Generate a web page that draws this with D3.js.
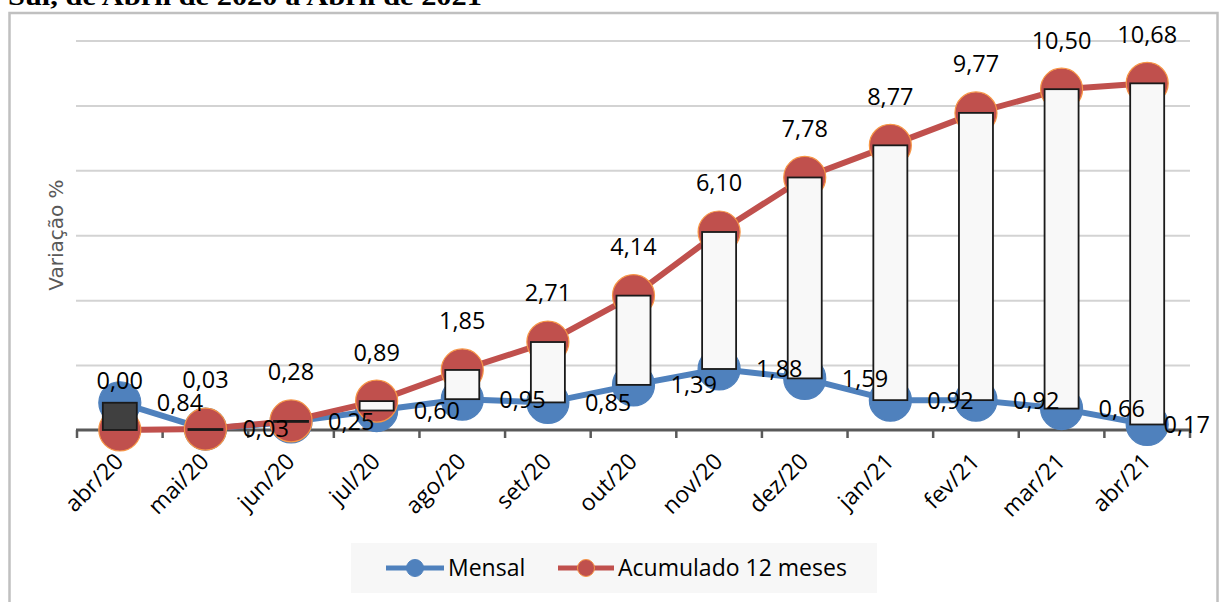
<!DOCTYPE html>
<html>
<head>
<meta charset="utf-8">
<script src="https://cdn.jsdelivr.net/npm/d3@7"></script>
<style>
  html, body { margin: 0; padding: 0; background: #fff; }
  svg { display: block; }
</style>
</head>
<body>
<svg id="chart" width="1221" height="602"></svg>
<script>
"use strict";

// ── Data ──────────────────────────────────────────────
const meses = ["abr/20", "mai/20", "jun/20", "jul/20", "ago/20", "set/20", "out/20",
               "nov/20", "dez/20", "jan/21", "fev/21", "mar/21", "abr/21"];
const mensal    = [0.84, 0.03, 0.25, 0.60, 0.95, 0.85, 1.39, 1.88, 1.59, 0.92, 0.92, 0.66, 0.17];
const acumulado = [0.00, 0.03, 0.28, 0.89, 1.85, 2.71, 4.14, 6.10, 7.78, 8.77, 9.77, 10.50, 10.68];
const gridTicks = [2, 4, 6, 8, 10, 12];
const seriesNames = ["Mensal", "Acumulado 12 meses"];

const BLUE = "#4f81bd", RED = "#c0504d";
const fmt = v => v.toFixed(2).replace(".", ",");
const labelFont = "'Open Sans', sans-serif";

const svg = d3.select("#chart");

// title (cut off at the top, as in the source)
svg.append("text")
  .attr("x", 8).attr("y", 4.5)
  .attr("font-family", "'Liberation Serif', serif")
  .attr("font-weight", "bold").attr("font-size", 26)
  .attr("textLength", 474).attr("lengthAdjust", "spacingAndGlyphs")
  .attr("fill", "#000")
  .text("Sul, de Abril de 2020 a Abril de 2021");

// chart frame
svg.append("rect")
  .attr("x", 9.5).attr("y", 13).attr("width", 1208).attr("height", 620)
  .attr("fill", "#fff").attr("stroke", "#c0c0c0").attr("stroke-width", 2.5);

// ── Scales ────────────────────────────────────────────
const x = d3.scaleBand().domain(meses).range([77, 1190]).padding(0);
const cx = d => x(d) + x.bandwidth() / 2;
const y = d3.scaleLinear().domain([0, 12]).range([430, 40.5]);

const g = svg.append("g");

// gridlines
g.append("g")
  .attr("transform", "translate(76,0)")
  .call(d3.axisLeft(y).tickValues(gridTicks).tickSize(-(1190 - 76)).tickFormat(""))
  .call(s => s.select(".domain").remove())
  .call(s => s.selectAll("line").attr("stroke", "#d3d3d3").attr("stroke-width", 2));

// category axis: line + ticks at band boundaries
const axis = g.append("g");
const bounds = meses.map(m => x(m)).concat([x.range()[1]]);
axis.selectAll("line.tick").data(bounds).enter().append("line")
  .attr("x1", d => d).attr("x2", d => d)
  .attr("y1", y(0)).attr("y2", y(0) + 8)
  .attr("stroke", "#595959").attr("stroke-width", 2.5);
axis.append("line")
  .attr("x1", x.range()[0] - 1).attr("x2", x.range()[1] + 1)
  .attr("y1", y(0)).attr("y2", y(0))
  .attr("stroke", "#595959").attr("stroke-width", 3);

axis.selectAll("text.cat").data(meses).enter().append("text")
  .attr("class", "cat")
  .attr("transform", d => `translate(${cx(d) + 5},${y(0) + 33}) rotate(-45)`)
  .attr("text-anchor", "end")
  .attr("font-family", labelFont).attr("font-size", 23)
  .attr("fill", "#000")
  .text(d => d);

// y title
svg.append("text")
  .attr("transform", `translate(63,${235}) rotate(-90)`)
  .attr("text-anchor", "middle")
  .attr("font-family", "'DejaVu Sans', sans-serif").attr("font-size", 20)
  .attr("fill", "#595959")
  .text("Variação %");

// ── Series ────────────────────────────────────────────
const line = d3.line().x((d, i) => cx(meses[i])).y(d => y(d));

function drawSeries(vals, color, outline) {
  g.append("path").datum(vals)
    .attr("d", line).attr("fill", "none")
    .attr("stroke", color).attr("stroke-width", 6)
    .attr("stroke-linejoin", "round");
  g.selectAll(null).data(vals).enter().append("circle")
    .attr("cx", (d, i) => cx(meses[i])).attr("cy", d => y(d))
    .attr("r", 21)
    .attr("fill", color)
    .attr("stroke", outline).attr("stroke-width", 1.2);
}
drawSeries(mensal, BLUE, BLUE);
drawSeries(acumulado, RED, "#f79646");

// up/down bars between the two series (flat bars still show as a black line)
const barW = 34;
g.selectAll("rect.updown").data(meses).enter().append("rect")
  .attr("class", "updown")
  .attr("x", d => cx(d) - barW / 2)
  .attr("width", barW)
  .attr("y", (d, i) => y(Math.max(mensal[i], acumulado[i])))
  .attr("height", (d, i) => Math.max(1, Math.abs(y(mensal[i]) - y(acumulado[i]))))
  .attr("fill", (d, i) => acumulado[i] >= mensal[i] ? "#f8f8f8" : "#404040")
  .attr("stroke", "#1a1a1a").attr("stroke-width", 1.8);

// ── Data labels ───────────────────────────────────────
const blueLabels = g.selectAll("text.lblM").data(mensal).enter().append("text")
  .attr("class", "lblM")
  .attr("y", d => y(d))
  .attr("dy", "0.36em")
  .attr("font-family", labelFont).attr("font-size", 23.5)
  .attr("fill", "#000")
  .text(d => fmt(d));
blueLabels.each(function (d, i) {
  const w = this.getComputedTextLength();
  const px = Math.min(cx(meses[i]) + 37, 1210 - w);
  d3.select(this).attr("x", px);
});

g.selectAll("text.lblA").data(acumulado).enter().append("text")
  .attr("class", "lblA")
  .attr("x", (d, i) => cx(meses[i]))
  .attr("y", d => y(d) - 49)
  .attr("dy", "0.36em")
  .attr("text-anchor", "middle")
  .attr("font-family", labelFont).attr("font-size", 23.5)
  .attr("fill", "#000")
  .text(d => fmt(d));

// ── Legend ────────────────────────────────────────────
const leg = svg.append("g");
leg.append("rect")
  .attr("x", 351).attr("y", 543).attr("width", 526).attr("height", 50)
  .attr("fill", "#f7f7f7");

const legItems = [
  { name: seriesNames[0], color: BLUE, outline: BLUE, x0: 386, tx: 448 },
  { name: seriesNames[1], color: RED, outline: "#f79646", x0: 558, tx: 618 }
];
legItems.forEach(it => {
  leg.append("line")
    .attr("x1", it.x0).attr("x2", it.tx - 4)
    .attr("y1", 568).attr("y2", 568)
    .attr("stroke", it.color).attr("stroke-width", 5);
  leg.append("circle")
    .attr("cx", (it.x0 + it.tx - 4) / 2).attr("cy", 568).attr("r", 8.5)
    .attr("fill", it.color).attr("stroke", it.outline).attr("stroke-width", 1);
  leg.append("text")
    .attr("x", it.tx).attr("y", 568).attr("dy", "0.36em")
    .attr("font-family", labelFont).attr("font-size", 23)
    .attr("fill", "#000")
    .text(it.name);
});
</script>
</body>
</html>
